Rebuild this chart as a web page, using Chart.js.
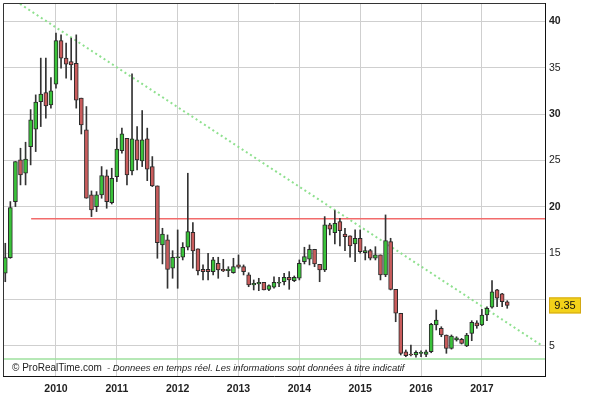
<!DOCTYPE html>
<html>
<head>
<meta charset="utf-8">
<script src="https://cdn.jsdelivr.net/npm/chart.js@4.4.0/dist/chart.umd.min.js"></script>
<style>
  html, body { margin: 0; padding: 0; background: #fff; }
  #wrap { width: 611px; height: 398px; position: relative; }
</style>
</head>
<body>
<div id="wrap"><canvas id="priceChart" width="611" height="398"></canvas></div>
<script>
// Monthly candles, March 2009 -> June 2017 (x = months since Jan 2010)
const firstMonth = -10;
const open  = [12.82, 14.51, 20.56, 25.06, 23.62, 26.49, 28.38, 31.36, 32.33, 31.0,
               33.24, 37.95, 36.05, 35.68, 35.5, 31.73, 28.3, 21.28, 20.02, 21.28,
               23.33, 20.45, 23.26, 26.07, 27.4, 23.87, 27.22, 24.95, 27.33, 24.34,
               22.25, 15.88, 16.42, 13.36, 14.5, 14.55, 15.63, 17.25, 15.45, 13.25,
               13.25, 13.0, 13.9, 13.25, 13.1, 12.88, 13.72, 13.53, 12.64, 11.56,
               11.67, 11.85, 11.09, 11.31, 11.74, 11.91, 12.39, 12.02, 12.28, 14.07,
               14.33, 15.41, 13.79, 13.18, 18.04, 17.2, 18.4, 17.06, 16.85, 15.99,
               16.6, 15.05, 15.26, 14.44, 14.8, 12.64, 16.23, 11.09, 8.5, 4.35,
               4.1, 4.0, 4.18, 4.07, 4.35, 7.24, 6.88, 6.16, 4.72, 5.62,
               5.69, 4.97, 6.34, 7.48, 7.24, 8.32, 9.15, 11.02, 10.59, 9.75];
const high  = [16.06, 20.56, 24.88, 26.32, 26.97, 30.49, 32.08, 36.05, 36.05, 33.95,
               38.75, 38.56, 37.67, 38.2, 38.56, 31.73, 30.82, 21.71, 21.64, 24.34,
               23.98, 24.16, 27.4, 28.49, 27.4, 34.35, 28.66, 30.39, 28.49, 25.42,
               22.25, 17.68, 16.96, 15.26, 17.5, 16.13, 23.62, 18.29, 15.45, 13.72,
               14.98, 14.55, 14.55, 14.33, 13.53, 14.44, 14.8, 13.72, 12.88, 12.1,
               12.28, 11.85, 11.56, 12.45, 12.39, 12.82, 13.0, 12.53, 14.26, 15.63,
               15.88, 15.41, 13.79, 18.94, 18.22, 19.58, 18.76, 17.68, 16.85, 17.5,
               17.5, 15.69, 15.41, 15.69, 14.8, 19.12, 16.6, 11.09, 8.5, 4.54,
               5.08, 4.46, 4.46, 4.54, 7.42, 8.86, 7.05, 6.16, 6.16, 5.97,
               5.8, 6.34, 7.7, 7.7, 8.93, 9.21, 12.02, 11.09, 10.66, 9.86];
const low   = [11.91, 14.44, 20.02, 22.36, 22.36, 24.52, 25.96, 28.66, 29.57, 30.65,
               32.8, 34.97, 33.89, 33.7, 30.65, 27.86, 20.92, 18.94, 19.48, 20.92,
               19.84, 20.3, 22.72, 25.78, 22.36, 23.44, 23.98, 24.34, 22.82, 22.18,
               14.44, 13.83, 11.2, 12.28, 11.2, 14.26, 15.34, 13.36, 12.64, 12.1,
               12.1, 12.64, 12.28, 13.0, 12.45, 12.82, 13.36, 12.64, 11.37, 11.02,
               10.94, 11.02, 10.94, 11.2, 11.37, 11.56, 11.09, 11.91, 12.1, 13.83,
               13.72, 13.53, 11.91, 13.0, 16.96, 15.99, 15.77, 15.26, 14.55, 14.07,
               14.98, 14.26, 14.26, 14.26, 12.1, 12.45, 11.02, 7.59, 4.0, 3.81,
               3.89, 3.75, 3.81, 3.81, 4.24, 6.7, 5.97, 4.18, 4.63, 5.5,
               5.18, 4.9, 5.54, 6.88, 7.16, 7.7, 9.04, 9.21, 9.21, 9.04];
const close = [14.51, 19.91, 24.88, 23.44, 25.14, 29.38, 31.29, 32.16, 30.89, 32.51,
               37.95, 36.05, 35.4, 35.32, 31.5, 28.84, 20.92, 19.66, 21.28, 23.37,
               20.56, 23.08, 26.22, 27.87, 23.44, 27.33, 25.06, 27.22, 24.06, 22.25,
               16.13, 17.06, 13.25, 14.55, 14.6, 15.63, 17.32, 15.23, 13.07, 13.0,
               13.0, 14.26, 13.18, 13.07, 13.28, 13.53, 13.47, 13.0, 11.56, 11.74,
               11.85, 11.02, 11.48, 11.85, 11.85, 12.39, 12.1, 12.39, 13.9, 14.62,
               15.41, 13.83, 13.18, 18.04, 17.57, 18.22, 17.42, 16.78, 15.77, 16.6,
               15.15, 15.26, 14.44, 14.8, 12.64, 16.34, 11.09, 8.5, 4.18, 3.92,
               4.0, 4.28, 4.28, 4.35, 7.31, 7.78, 6.16, 4.72, 6.05, 5.86,
               5.26, 6.16, 7.53, 7.13, 8.32, 9.04, 10.83, 10.12, 9.75, 9.35];

// Drawn levels
const resistance = 18.7;
const support = 3.56;
const trendLine = [{ x: -7.1, y: 41.9 }, { x: 95.9, y: 5.0 }];

// Axes
const yearTicks = [0, 12, 24, 36, 48, 60, 72, 84];
const priceTicks = [5, 10, 15, 20, 25, 30, 35, 40];
const xMin = -10.45, xMax = 96.45;
const yMin = 1.73, yMax = 42.0;

const FONT = 'Arial, "Liberation Sans", sans-serif';
const UP = '#3ac23a';
const DOWN = '#c95c5c';
const lastPrice = close[close.length - 1];

const bodies = open.map((o, i) => ({ x: firstMonth + i, y: [o, close[i]] }));
const wicks = low.map((l, i) => ({ x: firstMonth + i, y: [l, high[i]] }));
const colors = open.map((o, i) => close[i] >= o ? UP : DOWN);

const overlay = {
    id: 'overlay',
    afterDraw(chart) {
        const ctx = chart.ctx;
        const a = chart.chartArea;
        ctx.save();
        // frame top / left
        ctx.strokeStyle = '#333';
        ctx.lineWidth = 1;
        ctx.beginPath();
        ctx.moveTo(a.left + 0.5, a.bottom);
        ctx.lineTo(a.left + 0.5, a.top + 0.5);
        ctx.lineTo(a.right, a.top + 0.5);
        ctx.stroke();

        // footer text
        ctx.fillStyle = '#222';
        ctx.textBaseline = 'middle';
        ctx.font = '10px ' + FONT;
        ctx.fillText('\u00a9 ProRealTime.com', 12, 368);
        const note = '- Donnees en temps r\u00e9el. Les informations sont donn\u00e9es \u00e0 titre indicatif';
        ctx.font = 'italic 10px ' + FONT;
        const w = ctx.measureText(note).width;
        const size = Math.min(11, 10 * 298 / w);
        ctx.font = 'italic ' + size.toFixed(2) + 'px ' + FONT;
        ctx.fillText(note, 107, 368);

        // last price box
        const y = chart.scales.y.getPixelForValue(lastPrice);
        ctx.fillStyle = '#f3d21a';
        ctx.strokeStyle = '#d2a814';
        ctx.fillRect(549, y - 8, 32, 16);
        ctx.strokeRect(549.5, y - 7.5, 31, 15);
        ctx.fillStyle = '#111';
        ctx.font = '11px ' + FONT;
        ctx.textAlign = 'center';
        ctx.fillText(lastPrice.toFixed(2), 565, y + 0.5);
        ctx.restore();
    }
};

const ctx = document.getElementById('priceChart').getContext('2d');

new Chart(ctx, {
    type: 'bar',
    data: {
        datasets: [
            {
                // candle bodies
                data: bodies,
                backgroundColor: colors,
                borderColor: '#2a2a2a',
                borderWidth: 1,
                borderSkipped: false,
                barThickness: 4,
                grouped: false,
                order: 0
            },
            {
                // wicks
                data: wicks,
                backgroundColor: '#333',
                borderWidth: 0,
                barThickness: 1,
                grouped: false,
                order: 1
            },
            {
                type: 'line',
                data: [{ x: -4.9, y: resistance }, { x: xMax, y: resistance }],
                borderColor: '#f26b6b',
                borderWidth: 1.5,
                pointRadius: 0,
                order: 2
            },
            {
                type: 'line',
                data: [{ x: xMin, y: support }, { x: xMax, y: support }],
                borderColor: '#9ee09e',
                borderWidth: 1.5,
                pointRadius: 0,
                order: 3
            },
            {
                type: 'line',
                data: trendLine,
                borderColor: '#8ee08e',
                borderWidth: 2,
                borderDash: [2, 3],
                pointRadius: 0,
                order: 4
            }
        ]
    },
    options: {
        responsive: false,
        animation: false,
        layout: { padding: { left: 3, top: 3, right: 0, bottom: 0 } },
        plugins: {
            legend: { display: false },
            tooltip: { enabled: false }
        },
        scales: {
            x: {
                type: 'linear',
                offset: false,
                min: xMin,
                max: xMax,
                afterBuildTicks: scale => { scale.ticks = yearTicks.map(v => ({ value: v })); },
                afterFit: scale => {
                    scale.height = 22;
                    scale.paddingLeft = 0;
                    scale.paddingRight = 0;
                },
                grid: {
                    color: '#cfcfcf',
                    offset: false,
                    drawTicks: false
                },
                border: { color: '#111', width: 1 },
                ticks: {
                    padding: 7,
                    maxRotation: 0,
                    autoSkip: false,
                    color: '#222',
                    font: { family: FONT, size: 10.5, weight: 'bold' },
                    callback: v => String(2010 + v / 12)
                }
            },
            y: {
                position: 'right',
                min: yMin,
                max: yMax,
                afterBuildTicks: scale => { scale.ticks = priceTicks.map(v => ({ value: v })); },
                afterFit: scale => {
                    scale.width = 66;
                    scale.paddingTop = 0;
                    scale.paddingBottom = 0;
                },
                grid: {
                    color: '#cfcfcf',
                    drawTicks: false
                },
                border: { color: '#111', width: 1 },
                ticks: {
                    padding: 4,
                    color: '#222',
                    font: c => ({ family: FONT, size: 10.5, weight: c.tick && c.tick.value % 10 === 0 ? 'bold' : 'normal' }),
                    // the price label sits on top of the nearby tick
                    callback: v => Math.abs(v - lastPrice) < 1.5 ? '' : String(v)
                }
            }
        }
    },
    plugins: [overlay]
});
</script>
</body>
</html>
